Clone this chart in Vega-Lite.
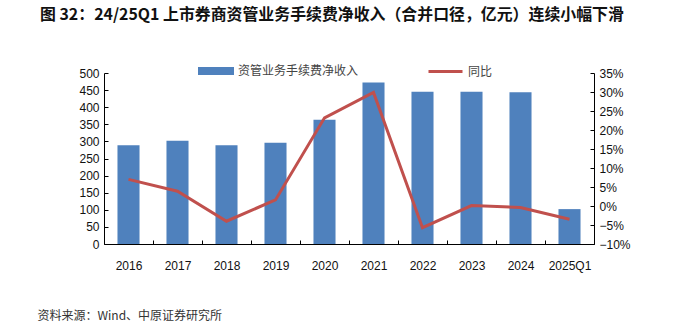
{
  "$schema": "https://vega.github.io/schema/vega-lite/v6.json",
  "width": 490,
  "height": 171,
  "autosize": {"type": "none"},
  "padding": {"left": 104, "top": 73, "right": 106, "bottom": 87},
  "background": "white",
  "title": {
    "text": "图 32：24/25Q1 上市券商资管业务手续费净收入（合并口径，亿元）连续小幅下滑",
    "anchor": "start",
    "frame": "group",
    "orient": "top",
    "dx": -64,
    "offset": 30,
    "font": "Noto Sans CJK SC",
    "fontSize": 15.9,
    "fontWeight": "bold",
    "color": "#111111"
  },
  "data": {
    "values": [
      {"year": "2016", "income": 289, "yoy": 0.070},
      {"year": "2017", "income": 302, "yoy": 0.039},
      {"year": "2018", "income": 289, "yoy": -0.040},
      {"year": "2019", "income": 296, "yoy": 0.016},
      {"year": "2020", "income": 363, "yoy": 0.232},
      {"year": "2021", "income": 472, "yoy": 0.299},
      {"year": "2022", "income": 445, "yoy": -0.057},
      {"year": "2023", "income": 445, "yoy": 0.001},
      {"year": "2024", "income": 444, "yoy": -0.004},
      {"year": "2025Q1", "income": 102, "yoy": -0.035}
    ]
  },
  "encoding": {
    "x": {
      "field": "year",
      "type": "nominal",
      "sort": null,
      "scale": {"paddingInner": 0, "paddingOuter": 0},
      "axis": {
        "title": "资料来源：Wind、中原证券研究所",
        "titleFont": "Noto Sans CJK SC",
        "titleFontSize": 12,
        "titleFontWeight": "normal",
        "titleColor": "#333333",
        "titleAnchor": "start",
        "titleAlign": "left",
        "titleBaseline": "middle",
        "titleX": -67,
        "titleY": 71,
        "labelAngle": 0,
        "labelFont": "Liberation Sans",
        "labelFontSize": 12,
        "labelColor": "#111111",
        "labelPadding": 20,
        "tickBand": "extent",
        "tickSize": -4,
        "tickColor": "#000000",
        "domainColor": "#000000",
        "grid": false
      }
    }
  },
  "layer": [
    {
      "mark": {"type": "bar", "width": {"band": 0.45}},
      "encoding": {
        "y": {
          "field": "income",
          "type": "quantitative",
          "scale": {"domain": [0, 500]},
          "axis": {
            "title": null,
            "values": [0, 50, 100, 150, 200, 250, 300, 350, 400, 450, 500],
            "labelFont": "Liberation Sans",
            "labelFontSize": 12,
            "labelColor": "#111111",
            "labelPadding": 9,
            "tickSize": -4,
            "tickColor": "#000000",
            "domainColor": "#000000",
            "grid": false
          }
        },
        "fill": {
          "datum": "资管业务手续费净收入",
          "scale": {"range": ["#4F81BD"]},
          "legend": {
            "title": null,
            "orient": "none",
            "legendX": 94,
            "legendY": -20,
            "symbolType": "M-1,-0.22H1V0.22H-1Z",
            "symbolSize": 1296,
            "symbolStrokeWidth": 0,
            "labelFont": "Noto Sans CJK SC",
            "labelFontSize": 12,
            "labelColor": "#444444",
            "labelOffset": 4
          }
        }
      }
    },
    {
      "mark": {"type": "line", "strokeWidth": 3},
      "encoding": {
        "y": {
          "field": "yoy",
          "type": "quantitative",
          "scale": {"domain": [-0.1, 0.35]},
          "axis": {
            "orient": "right",
            "title": null,
            "format": ".0%",
            "values": [-0.1, -0.05, 0, 0.05, 0.1, 0.15, 0.2, 0.25, 0.3, 0.35],
            "labelFont": "Liberation Sans",
            "labelFontSize": 12,
            "labelColor": "#111111",
            "labelPadding": 9,
            "tickSize": -4,
            "tickColor": "#000000",
            "domainColor": "#000000",
            "grid": false
          }
        },
        "stroke": {
          "datum": "同比",
          "scale": {"range": ["#C0504D"]},
          "legend": {
            "title": null,
            "orient": "none",
            "legendX": 323,
            "legendY": -20,
            "symbolType": "stroke",
            "symbolSize": 1156,
            "symbolStrokeWidth": 3,
            "labelFont": "Noto Sans CJK SC",
            "labelFontSize": 12,
            "labelColor": "#444444",
            "labelOffset": 4
          }
        }
      }
    }
  ],
  "resolve": {"scale": {"y": "independent", "fill": "independent", "stroke": "independent"}},
  "config": {"view": {"stroke": null}, "legend": {"symbolLimit": 0}}
}
